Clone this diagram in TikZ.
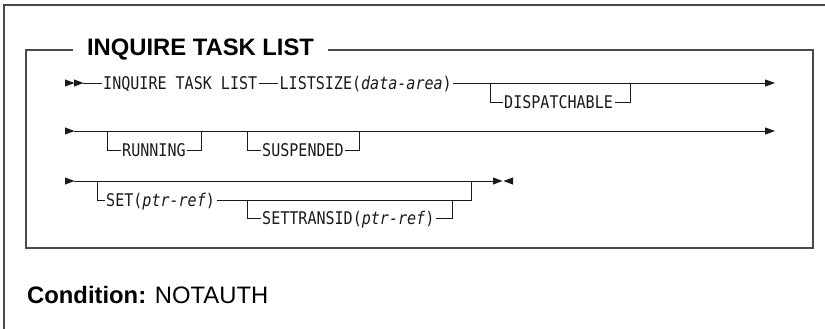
\documentclass[tikz,border=0pt]{standalone}
\usepackage{fontspec}
\setmainfont{Liberation Sans}
\newfontfamily\railfont[FakeStretch=0.86]{DejaVu Sans Mono}
\usetikzlibrary{arrows.meta,positioning,calc}
\definecolor{ink}{HTML}{1A1A1A}
\definecolor{framegray}{HTML}{4A4A4A}

\begin{document}
\begin{tikzpicture}[x=1pt,y=-1pt,>={Triangle[length=10pt,width=7pt]},
  kw/.style={anchor=west,inner xsep=1.5pt,inner ysep=0pt,text height=12.7pt,text depth=0pt,text=ink,font=\railfont\fontsize{17.5}{18}\selectfont},
  rail/.style={line width=0.9pt,draw=ink},
  frameline/.style={line width=1.3pt,draw=framegray},
  railhead/.pic={\fill[ink] (0,-3.6) -- (9.5,0) -- (0,3.6) -- cycle;}]
  \useasboundingbox (0,0) rectangle (825,329);
  \draw[frameline] (4,329) |- (825,5);

  \node[inner xsep=14pt,inner ysep=0pt,font=\bfseries\fontsize{23.8}{24}\selectfont] (title) at (200.5,50) {INQUIRE TASK LIST};
  \draw[frameline] (title.east) -| (813,248) -| (26,50) -- (title.west);

  \pic at (65,83) {railhead};
  \pic at (74,83) {railhead};
  \coordinate (s1) at (83,83);
  \node[kw] (inq) at (101.5,83) {INQUIRE TASK LIST};
  \node[kw,right=19pt of inq] (lsize) {LISTSIZE(\textit{data-area})};
  \coordinate (e1) at (775,83);
  \draw[rail] (s1) -- (inq.west);
  \draw[rail] (inq.east) -- (lsize.west);
  \draw[rail,->] (lsize.east) -- (e1);
  \coordinate (d1) at (490,83);
  \coordinate (d2) at (630,83);
  \node[kw] (disp) at (502.5,102) {DISPATCHABLE};
  \draw[rail] (d1) |- (disp.west);
  \draw[rail] (disp.east) -| (d2);

  \pic at (65,131) {railhead};
  \coordinate (s2) at (74,131);
  \coordinate (e2) at (775,131);
  \draw[rail,->] (s2) -- (e2);
  \coordinate (r1) at (107,131);
  \coordinate (r2) at (201,131);
  \node[kw] (run) at (120.5,150) {RUNNING};
  \draw[rail] (r1) |- (run.west);
  \draw[rail] (run.east) -| (r2);
  \coordinate (u1) at (247,131);
  \coordinate (u2) at (359,131);
  \node[kw] (susp) at (260.5,150) {SUSPENDED};
  \draw[rail] (u1) |- (susp.west);
  \draw[rail] (susp.east) -| (u2);

  \pic at (65,181) {railhead};
  \coordinate (s3) at (74,181);
  \coordinate (t1) at (493,181);
  \draw[rail] (s3) -- (t1);
  \pic at (493,181) {railhead};
  \pic[rotate=180] at (513,181) {railhead};
  \coordinate (a1) at (97,181);
  \coordinate (a2) at (471,181);
  \node[kw] (set) at (104.5,200) {SET(\textit{ptr-ref})};
  \draw[rail] (a1) |- (set.west);
  \draw[rail] (set.east) -| (a2);
  \coordinate (b1) at (247,200);
  \coordinate (b2) at (452,200);
  \node[kw] (settr) at (260.5,218) {SETTRANSID(\textit{ptr-ref})};
  \draw[rail] (b1) |- (settr.west);
  \draw[rail] (settr.east) -| (b2);

  \node[anchor=west,inner sep=0pt,font=\fontsize{23.8}{24}\selectfont] (cond) at (27,295) {\textbf{Condition:} NOTAUTH};
\end{tikzpicture}
\end{document}
